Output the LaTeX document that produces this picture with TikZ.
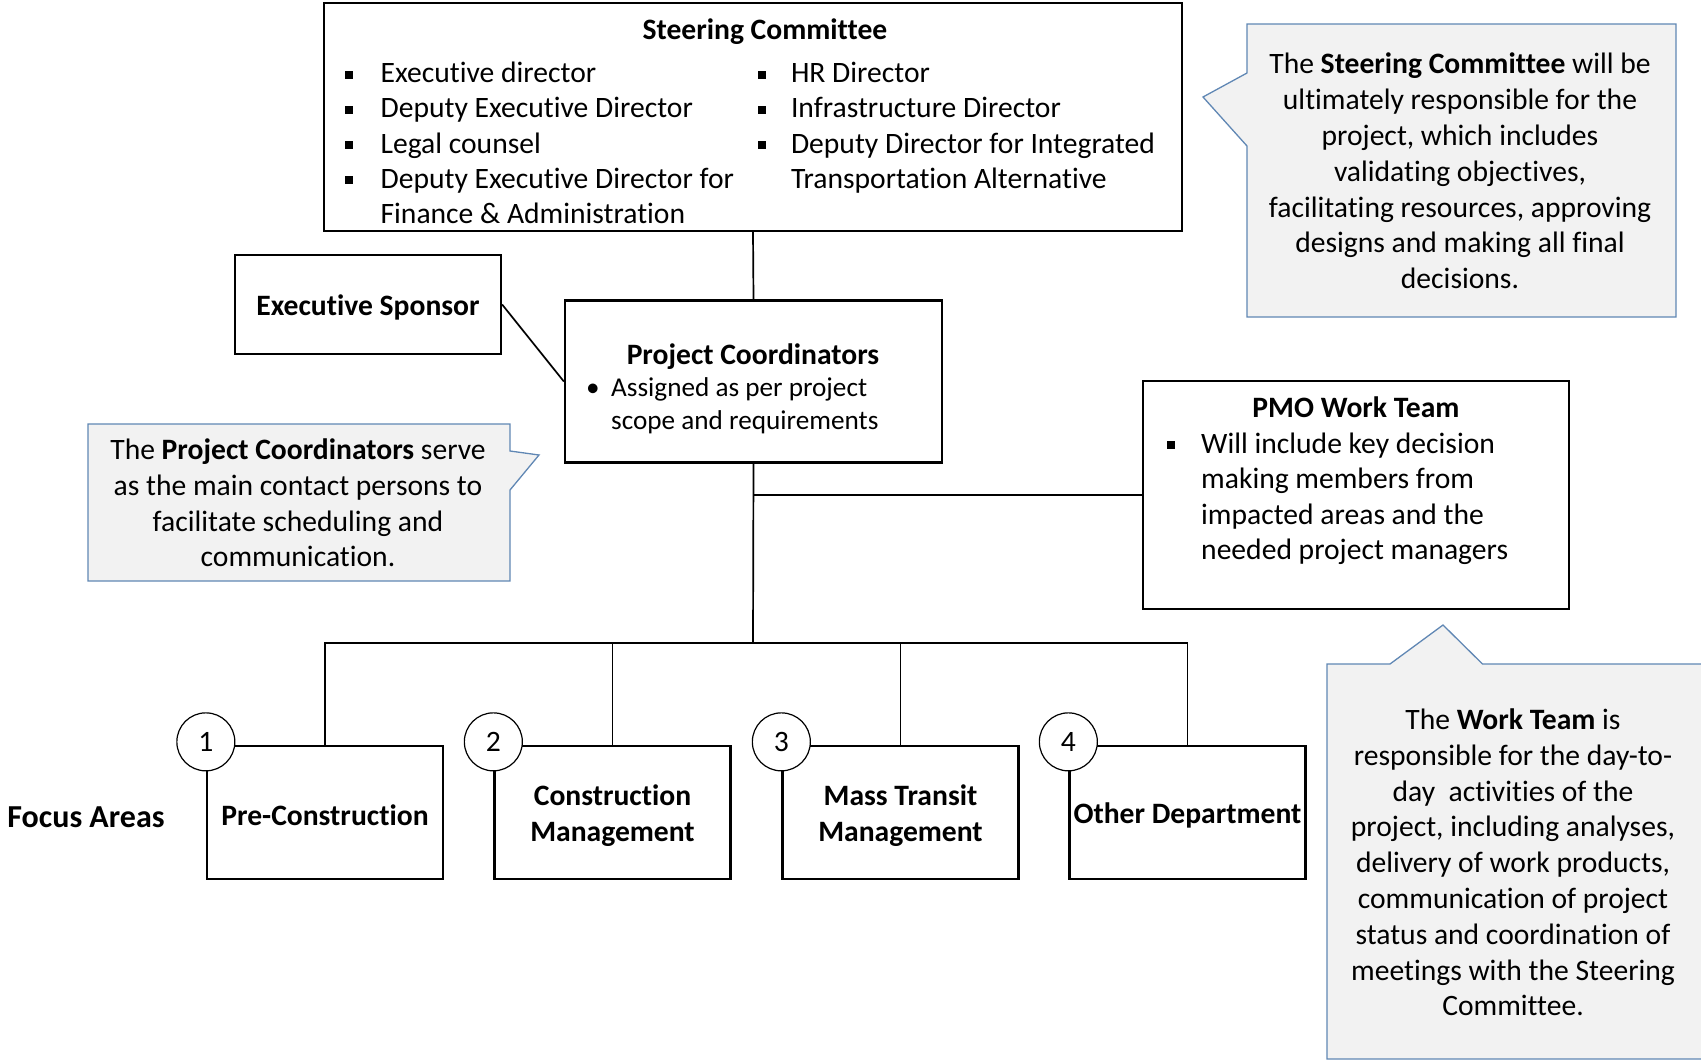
\documentclass[tikz,border=0pt]{standalone}
\usepackage{fontspec}
\setmainfont{Carlito}[Ligatures=NoCommon]
\newcommand\bigfs{\fontsize{29.6}{35.8}\selectfont}
\newcommand\smallfs{\fontsize{27.2}{32}\selectfont}
\newcommand\sqbul{\rule[4pt]{8pt}{8pt}}
\definecolor{noteline}{RGB}{96,135,180}
\definecolor{notefill}{RGB}{242,242,242}
\begin{document}
\begin{tikzpicture}[x=1pt,y=-1pt,
  box/.style={draw, line width=2.3pt, fill=white, inner sep=0pt},
  wire/.style={line width=1.7pt},
  txt/.style={inner sep=0pt, font=\bigfs},
  stxt/.style={inner sep=0pt, font=\smallfs},
  note/.style={draw=noteline, fill=notefill, line width=1.3pt, line join=miter},
  notetxt/.style={inner sep=0pt, font=\bigfs, align=center},
  num/.style={draw, circle, line width=1.2pt, fill=white, minimum size=58pt, inner sep=0pt, font=\bigfs},
  focus/.style={box, minimum width=236pt, minimum height=133pt},
  focustxt/.style={inner sep=0pt, align=center, font=\bigfs\bfseries}
]
\useasboundingbox (0,0) rectangle (1701,1060);

% ---------- Steering Committee ----------
\node[box, minimum width=858pt, minimum height=228pt] (steer) at (753,117) {};
\node[txt, font=\bigfs\bfseries, anchor=base] (steertitle) at (765,39) {Steering Committee};
\node[txt, anchor=base west] (sc1) at (344.8,82.5)  {\makebox[35.6pt][l]{\sqbul}Executive director};
\node[txt, anchor=base west] (sc2) at (344.8,117.8) {\makebox[35.6pt][l]{\sqbul}Deputy Executive Director};
\node[txt, anchor=base west] (sc3) at (344.8,153)   {\makebox[35.6pt][l]{\sqbul}Legal counsel};
\node[txt, anchor=base west] (sc4) at (344.8,188.3) {\makebox[35.6pt][l]{\sqbul}Deputy Executive Director for};
\node[txt, anchor=base west] (sc5) at (380.4,223.5) {Finance \& Administration};
\node[txt, anchor=base west] (sc6) at (757.5,82.5)  {\makebox[33.3pt][l]{\sqbul}HR Director};
\node[txt, anchor=base west] (sc7) at (757.5,117.8) {\makebox[33.3pt][l]{\sqbul}Infrastructure Director};
\node[txt, anchor=base west] (sc8) at (757.5,153)   {\makebox[33.3pt][l]{\sqbul}Deputy Director for Integrated};
\node[txt, anchor=base west] (sc9) at (790.8,188.3) {Transportation Alternative};

% ---------- Executive Sponsor ----------
\node[box, minimum width=266pt, minimum height=99pt] (sponsor) at (368,304.5) {};
\node[focustxt] (sponsortxt) at ([yshift=-3pt]sponsor.center) {Executive Sponsor};

% ---------- Project Coordinators ----------
\node[box, minimum width=377pt, minimum height=162pt] (pc) at (753.5,381.5) {};
\node[txt, font=\bigfs\bfseries, anchor=base] (pctitle) at (753,364.5) {Project Coordinators};
\node[stxt, anchor=base west] (pc1) at (586,396.5) {\makebox[25pt][l]{•}Assigned as per project};
\node[stxt, anchor=base west] (pc2) at (611,429.5) {scope and requirements};

% ---------- PMO Work Team ----------
\node[box, minimum width=426pt, minimum height=228pt] (pmo) at (1356,495) {};
\node[txt, font=\bigfs\bfseries, anchor=base] (pmotitle) at (1356,417) {PMO Work Team};
\node[txt, anchor=base west] (pmo1) at (1166.4,453)   {\makebox[34.6pt][l]{\sqbul}Will include key decision};
\node[txt, anchor=base west] (pmo2) at (1201,488.5)   {making members from};
\node[txt, anchor=base west] (pmo3) at (1201,524)     {impacted areas and the};
\node[txt, anchor=base west] (pmo4) at (1201,559.5)   {needed project managers};

% ---------- Focus areas ----------
\node[inner sep=0pt, font=\fontsize{32}{38}\selectfont\bfseries] (focuslabel) at (86,817) {Focus Areas};
\node[focus] (fa1) at (325,812.5)   {};
\node[focus] (fa2) at (612.5,812.5) {};
\node[focus] (fa3) at (900.5,812.5) {};
\node[focus] (fa4) at (1187.5,812.5){};
\node[focustxt] (fa1t) at ([yshift=-3pt]fa1.center) {Pre-Construction};
\node[focustxt] (fa2t) at ([yshift=-3pt]fa2.center) {Construction\\Management};
\node[focustxt] (fa3t) at ([yshift=-3pt]fa3.center) {Mass Transit\\Management};
\node[focustxt] (fa4t) at ([yshift=-3pt]fa4.center) {Other Department};

% ---------- connectors ----------
\coordinate (bus) at (753,643);
\draw[wire] (steer.south) -- (pc.north);
\draw[wire] (sponsor.east) -- (pc.west);
\draw[wire] (pc.south) -- (bus);
\draw[wire] (pmo.west) -- (pmo.west -| bus);
\draw[wire] (fa1.north) |- (bus) -| (fa4.north);
\draw[wire] (fa2.north) -- (fa2.north |- bus);
\draw[wire] (fa3.north) -- (fa3.north |- bus);

% numbered markers on the box corners
\node[num] (n1) at ([yshift=3pt]fa1.north west) {1};
\node[num] (n2) at ([yshift=3pt]fa2.north west) {2};
\node[num] (n3) at ([yshift=3pt]fa3.north west) {3};
\node[num] (n4) at ([yshift=3pt]fa4.north west) {4};

% ---------- explanatory callouts ----------
\draw[note] (1247,24) -- (1676,24) -- (1676,317) -- (1247,317) -- (1247,146)
  -- (1203,97) -- (1247,73) -- cycle;
\node[notetxt] (noteSC) at (1460,171) {The \textbf{Steering Committee} will be\\ultimately responsible for the\\project, which includes\\validating objectives,\\facilitating resources, approving\\designs and making all final\\decisions.};

\draw[note] (88,424) -- (510,424) -- (510,451) -- (539,455) -- (510,490)
  -- (510,581) -- (88,581) -- cycle;
\node[notetxt] (notePC) at (298,503) {The \textbf{Project Coordinators} serve\\as the main contact persons to\\facilitate scheduling and\\communication.};

\draw[note] (1327,664) -- (1390,664) -- (1443,625) -- (1482.5,664) -- (1730,664)
  -- (1730,1059) -- (1327,1059) -- cycle;
\node[notetxt] (noteWT) at (1513,862.5) {The \textbf{Work Team} is\\responsible for the day-to-\\day\ \ activities of the\\project, including analyses,\\delivery of work products,\\communication of project\\status and coordination of\\meetings with the Steering\\Committee.};
\end{tikzpicture}
\end{document}
